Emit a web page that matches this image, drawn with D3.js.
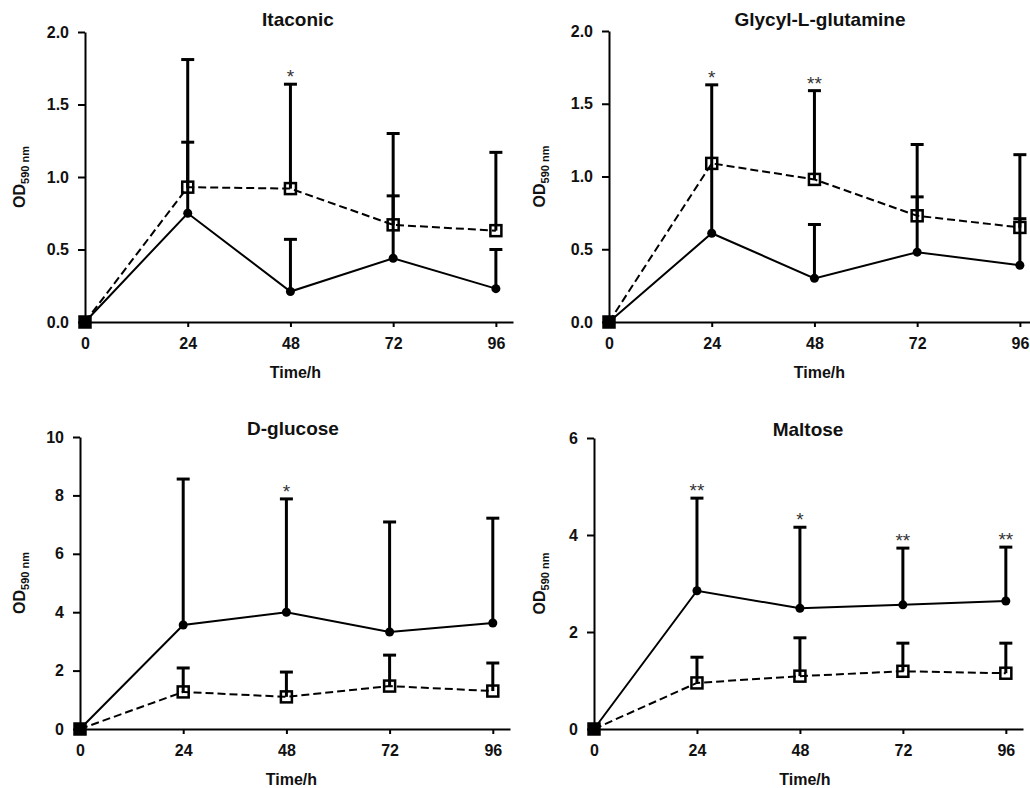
<!DOCTYPE html>
<html>
<head>
<meta charset="utf-8">
<style>
    body { margin: 0; background: #ffffff; }
    svg { display: block; font-family: "Liberation Sans", Arial, Helvetica, sans-serif; }
    .axis path, .axis line { stroke: #000; stroke-width: 2; }
    .axis text { font-size: 16px; font-weight: bold; fill: #111; }
</style>
</head>
<body>
<svg id="chart" width="1030" height="788"></svg>
<script src="https://d3js.org/d3.v7.min.js"></script>
<script>
    // time points (h)
    let times = [0, 24, 48, 72, 96]

    // panel titles and y axis ticks
    let titles = ["Itaconic", "Glycyl-L-glutamine", "D-glucose", "Maltose"]
    let yMax = [2, 2, 10, 6]
    let yTicks = [
        [0, 0.5, 1.0, 1.5, 2.0],
        [0, 0.5, 1.0, 1.5, 2.0],
        [0, 2, 4, 6, 8, 10],
        [0, 2, 4, 6]
    ]

    // solid line, filled circles: mean and top of error bar
    let itaconicSolid = [0, 0.75, 0.21, 0.44, 0.23]
    let itaconicSolidTop = [0, 1.81, 0.57, 0.87, 0.50]
    // dashed line, open squares
    let itaconicOpen = [0, 0.93, 0.92, 0.67, 0.63]
    let itaconicOpenTop = [0, 1.24, 1.64, 1.30, 1.17]
    let itaconicStars = ["", "", "*", "", ""]

    let glutamineSolid = [0, 0.61, 0.30, 0.48, 0.39]
    let glutamineSolidTop = [0, 1.63, 0.67, 0.86, 0.71]
    let glutamineOpen = [0, 1.09, 0.98, 0.73, 0.65]
    let glutamineOpenTop = [0, 1.09, 1.59, 1.22, 1.15]
    let glutamineStars = ["", "*", "**", "", ""]

    let glucoseSolid = [0, 3.56, 4.00, 3.32, 3.63]
    let glucoseSolidTop = [0, 8.56, 7.88, 7.09, 7.22]
    let glucoseOpen = [0, 1.27, 1.10, 1.47, 1.30]
    let glucoseOpenTop = [0, 2.09, 1.95, 2.53, 2.26]
    let glucoseStars = ["", "", "*", "", ""]

    let maltoseSolid = [0, 2.85, 2.49, 2.56, 2.64]
    let maltoseSolidTop = [0, 4.76, 4.16, 3.73, 3.75]
    let maltoseOpen = [0, 0.95, 1.09, 1.19, 1.15]
    let maltoseOpenTop = [0, 1.48, 1.88, 1.77, 1.77]
    let maltoseStars = ["", "**", "*", "**", "**"]

    let panels = [
        {solid: itaconicSolid, solidTop: itaconicSolidTop, open: itaconicOpen, openTop: itaconicOpenTop, stars: itaconicStars},
        {solid: glutamineSolid, solidTop: glutamineSolidTop, open: glutamineOpen, openTop: glutamineOpenTop, stars: glutamineStars},
        {solid: glucoseSolid, solidTop: glucoseSolidTop, open: glucoseOpen, openTop: glucoseOpenTop, stars: glucoseStars},
        {solid: maltoseSolid, solidTop: maltoseSolidTop, open: maltoseOpen, openTop: maltoseOpenTop, stars: maltoseStars}
    ]

    // plot boxes (left, right, top, bottom) and title baseline
    let boxes = [
        {left: 85, right: 513, top: 32, bottom: 322, titleY: 26, titleX: 298, labelX: 25},
        {left: 609, right: 1037, top: 31, bottom: 322, titleY: 26, titleX: 820, labelX: 545},
        {left: 80, right: 510, top: 437, bottom: 729, titleY: 435, titleX: 293, labelX: 25},
        {left: 594, right: 1023, top: 438, bottom: 729, titleY: 436, titleX: 808, labelX: 545}
    ]

    let svg = d3.select("#chart")

    panels.forEach((p, i) => drawPanel(p, i))

    function drawPanel(p, i) {
        let b = boxes[i]
        let g = svg.append("g")

        let xScale = d3.scaleLinear()
            .domain([0, 100])
            .range([b.left, b.right])
        let yScale = d3.scaleLinear()
            .domain([0, yMax[i]])
            .range([b.bottom, b.top])

        let fmt = yMax[i] <= 2 ? d3.format(".1f") : d3.format("d")

        g.append("g")
            .attr("class", "axis")
            .attr("transform", `translate(0,${b.bottom})`)
            .call(d3.axisBottom(xScale).tickValues(times).tickSize(5).tickSizeOuter(0).tickPadding(11))
        g.append("g")
            .attr("class", "axis")
            .attr("transform", `translate(${b.left},0)`)
            .call(d3.axisLeft(yScale).tickValues(yTicks[i]).tickFormat(fmt).tickSize(7).tickSizeOuter(0).tickPadding(9))

        // title
        g.append("text")
            .attr("x", b.titleX)
            .attr("y", b.titleY)
            .attr("text-anchor", "middle")
            .attr("font-size", 19)
            .attr("font-weight", "bold")
            .attr("fill", "#111")
            .text(titles[i])

        // x label
        g.append("text")
            .attr("x", (b.left + xScale(96)) / 2 + 5)
            .attr("y", b.bottom + 56)
            .attr("text-anchor", "middle")
            .attr("font-size", 16)
            .attr("font-weight", "bold")
            .attr("fill", "#111")
            .text("Time/h")

        // y label
        let yl = g.append("text")
            .attr("transform", `translate(${b.labelX},${(b.top + b.bottom) / 2}) rotate(-90)`)
            .attr("text-anchor", "middle")
            .attr("font-weight", "bold")
            .attr("fill", "#111")
        yl.append("tspan").attr("font-size", 16).text("OD")
        yl.append("tspan").attr("font-size", 11).attr("dy", 4).text("590 nm")

        let solidData = times.map((t, k) => ({t: t, v: p.solid[k], top: p.solidTop[k]}))
        let openData = times.map((t, k) => ({t: t, v: p.open[k], top: p.openTop[k], star: p.stars[k]}))

        let line = d3.line()
            .x(d => xScale(d.t))
            .y(d => yScale(d.v))

        g.append("path")
            .datum(solidData)
            .attr("d", line)
            .attr("fill", "none")
            .attr("stroke", "#000")
            .attr("stroke-width", 2)
        g.append("path")
            .datum(openData)
            .attr("d", line)
            .attr("fill", "none")
            .attr("stroke", "#000")
            .attr("stroke-width", 2)
            .attr("stroke-dasharray", "8,4")

        // error bars (upper only)
        let bars = solidData.concat(openData).filter(d => d.top > d.v)
        g.selectAll(".err")
            .data(bars)
            .enter().append("line")
            .attr("x1", d => xScale(d.t))
            .attr("x2", d => xScale(d.t))
            .attr("y1", d => yScale(d.v))
            .attr("y2", d => yScale(d.top))
            .attr("stroke", "#000")
            .attr("stroke-width", 3)
        g.selectAll(".cap")
            .data(bars)
            .enter().append("line")
            .attr("x1", d => xScale(d.t) - 6.5)
            .attr("x2", d => xScale(d.t) + 6.5)
            .attr("y1", d => yScale(d.top))
            .attr("y2", d => yScale(d.top))
            .attr("stroke", "#000")
            .attr("stroke-width", 3)

        // significance stars above highest bar
        g.selectAll(".star")
            .data(openData.filter(d => d.star))
            .enter().append("text")
            .attr("x", d => xScale(d.t))
            .attr("y", d => {
                let k = times.indexOf(d.t)
                return yScale(Math.max(p.solidTop[k], p.openTop[k])) - 1
            })
            .attr("text-anchor", "middle")
            .attr("font-size", 19)
            .attr("fill", "#333")
            .text(d => d.star)

        // markers
        g.selectAll(".dot")
            .data(solidData)
            .enter().append("circle")
            .attr("cx", d => xScale(d.t))
            .attr("cy", d => yScale(d.v))
            .attr("r", 4.5)
            .attr("fill", "#000")
        g.selectAll(".sq")
            .data(openData)
            .enter().append("rect")
            .attr("x", d => xScale(d.t) - 5.5)
            .attr("y", d => yScale(d.v) - 5.5)
            .attr("width", 11)
            .attr("height", 11)
            .attr("fill", d => d.t === 0 ? "#000" : "none")
            .attr("stroke", "#000")
            .attr("stroke-width", 2.5)
    }
</script>
</body>
</html>
